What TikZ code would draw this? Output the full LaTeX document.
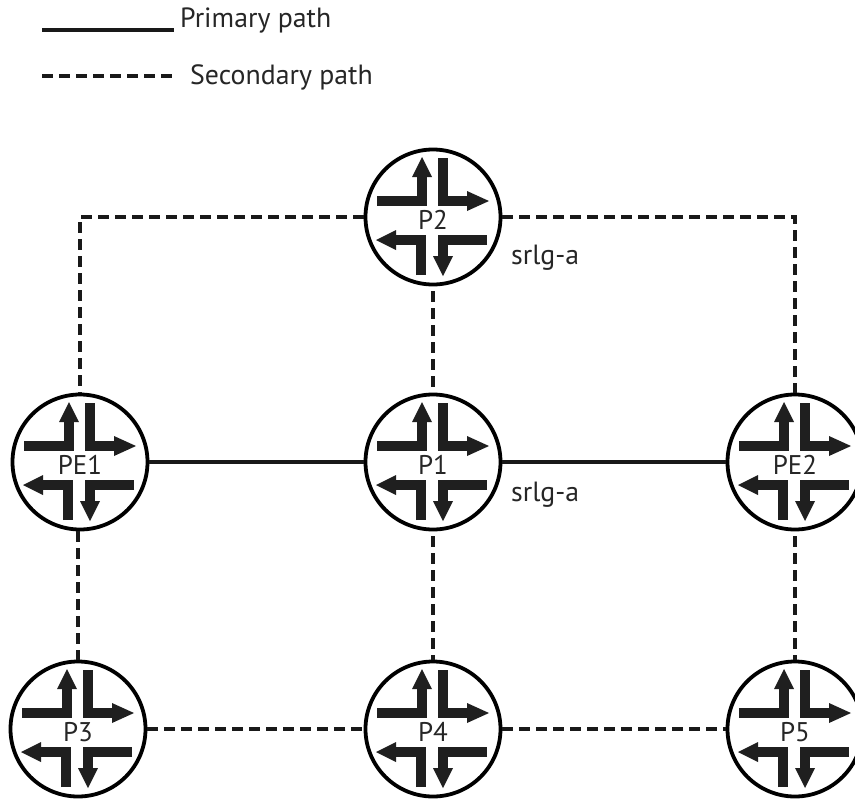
\documentclass[tikz,border=0pt]{standalone}
\usepackage{fontspec}
\setmainfont{PT Sans}
\usetikzlibrary{arrows.meta,calc}
\tikzset{
  x=1pt,y=-1pt,
  routerbox/.style={circle,draw=black,line width=3.8pt,minimum size=135pt,inner sep=0pt,fill=white},
  glyphline/.style={line width=9.2pt,draw=black!88,line cap=butt,line join=miter},
  glyphhead/.style={fill=black!88,draw=none},
  primarypath/.style={line width=3.1pt,draw=black!90},
  secondarypath/.style={line width=3.1pt,draw=black!90,dash pattern=on 11pt off 6pt},
  routerlabel/.style={font=\fontsize{27}{29}\selectfont,text=black!85,inner sep=0pt},
  plainlabel/.style={font=\fontsize{27.8}{30}\selectfont,text=black!85,inner sep=0pt,anchor=west},
  router/.pic={
    \draw[glyphline] (-56,-16) -- (-11,-16) -- (-11,-44);
    \fill[glyphhead] (-11,-60) -- (-1,-40) -- (-21,-40) -- cycle;
    \draw[glyphline] (10,-59) -- (10,-16) -- (36,-16);
    \fill[glyphhead] (56,-16) -- (34,-6) -- (34,-26) -- cycle;
    \draw[glyphline] (-12,58) -- (-12,23) -- (-40,23);
    \fill[glyphhead] (-57,23) -- (-37,13) -- (-37,33) -- cycle;
    \draw[glyphline] (54,23) -- (10,23) -- (10,42);
    \fill[glyphhead] (10,59) -- (0,39) -- (20,39) -- cycle;
  }
}
\newcommand{\routernode}[4]{%
  \node[routerbox] (#1) at (#2,#3) {};
  \pic at (#1) {router};
  \node[routerlabel] (#1text) at ($(#1)+(0,3)$) {#4};
}
\begin{document}
\begin{tikzpicture}
\useasboundingbox (0,0) rectangle (855,807);
\routernode{P2}{433}{217}{P2}
\routernode{P1}{433}{462}{P1}
\routernode{PE1}{80}{462}{PE1}
\routernode{PE2}{795}{462}{PE2}
\routernode{P3}{78}{729}{P3}
\routernode{P4}{433}{729}{P4}
\routernode{P5}{795}{729}{P5}
\draw[primarypath] (PE1) -- (P1);
\draw[primarypath] (P1) -- (PE2);
\draw[secondarypath] (P2) -| (PE1);
\draw[secondarypath] (P2) -| (PE2);
\draw[secondarypath,shorten <=5pt] (P2) -- (P1);
\draw[secondarypath] (PE1.south -| P3) -- (P3);
\draw[secondarypath,shorten <=5pt] (P1) -- (P4);
\draw[secondarypath,shorten <=5pt] (PE2) -- (P5);
\draw[secondarypath] (P3) -- (P4);
\draw[secondarypath] (P4) -- (P5);
\node[plainlabel] (srlgtop) at (511,258) {srlg-a};
\node[plainlabel] (srlgmid) at (511,495) {srlg-a};
\coordinate (pa) at (42,30);
\coordinate (pb) at (174,30);
\coordinate (sa) at (42,76);
\coordinate (sb) at (174,76);
\draw[primarypath] (pa) -- (pb);
\draw[secondarypath] (sa) -- (sb);
\node[plainlabel] (primarytext) at (180,21) {Primary path};
\node[plainlabel] (secondarytext) at (190,77) {Secondary path};
\end{tikzpicture}
\end{document}
